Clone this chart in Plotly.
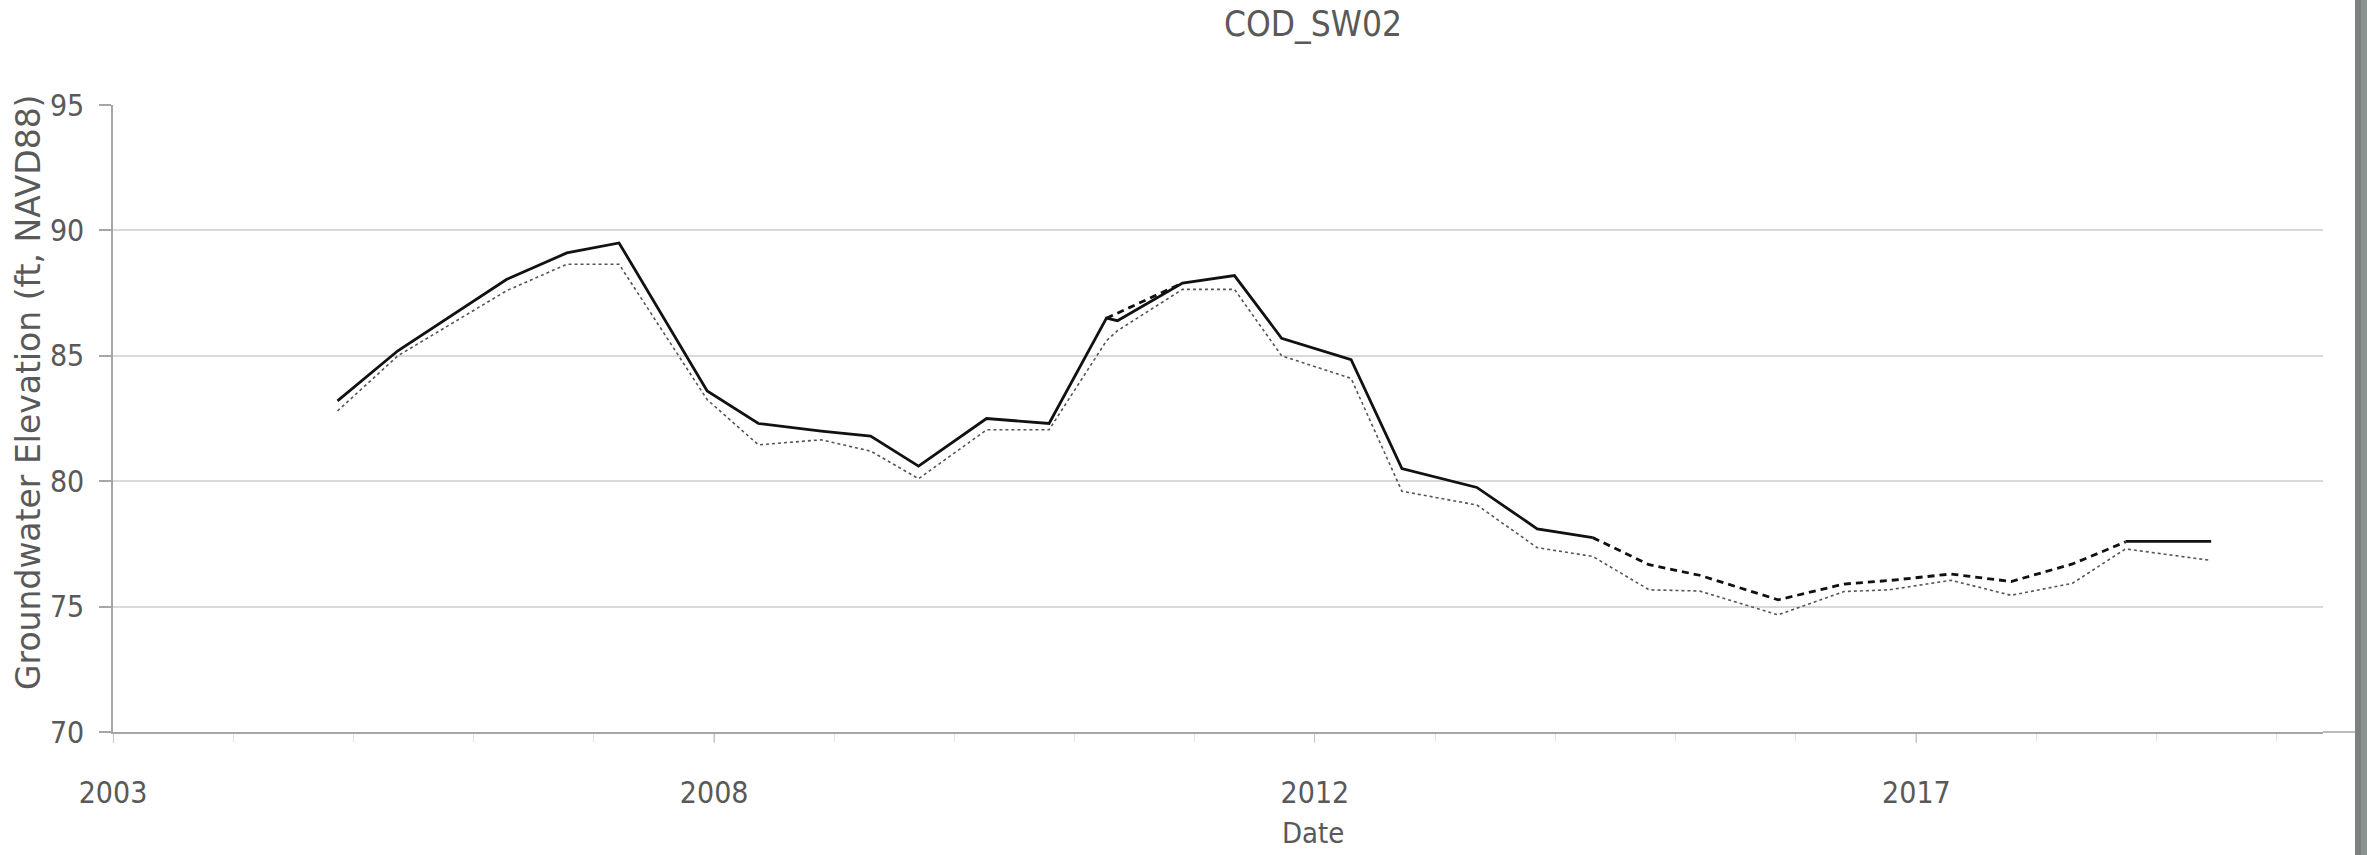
import plotly.graph_objects as go

# ---- data -------------------------------------------------------------
# Sampling dates shared by the measured and lower-bound records
dates = [
    "2005-03-07", "2005-08-19", "2006-06-13", "2006-11-24", "2007-04-16",
    "2007-12-13", "2008-05-01", "2008-10-20", "2009-03-04", "2009-07-13",
    "2010-01-15", "2010-07-05", "2010-12-09", "2011-01-08", "2011-07-05",
    "2011-11-24", "2012-04-01", "2012-10-08", "2013-02-24", "2013-09-17",
    "2014-03-01", "2014-07-31", "2015-01-01", "2015-05-19", "2015-12-20",
    "2016-06-17", "2016-10-19", "2017-04-06", "2017-09-17", "2018-03-04",
    "2018-07-27", "2019-03-18",
]

# Measured groundwater elevation (solid line); None = no measurement
measured = [
    83.2, 85.2, 88.05, 89.1, 89.5,
    83.6, 82.3, 82.0, 81.8, 80.6,
    82.5, 82.3, 86.5, 86.4, 87.9,
    88.2, 85.7, 84.85, 80.5, 79.75,
    78.1, 77.75, None, None, None,
    None, None, None, None, None,
    77.6, 77.6,
]

# Lower record (dotted line)
lower = [
    82.8, 85.0, 87.6, 88.65, 88.65,
    83.25, 81.45, 81.65, 81.2, 80.1,
    82.05, 82.05, 85.6, 86.0, 87.65,
    87.65, 85.0, 84.1, 79.6, 79.05,
    77.35, 77.0, 75.67, 75.62, 74.67,
    75.6, 75.67, 76.05, 75.45, 75.93,
    77.3, 76.84,
]

# Estimated elevations (dashed line); None breaks the line
est_dates = [
    "2010-12-09", "2011-07-05", "2011-11-24",
    "2014-07-31", "2015-01-01", "2015-05-19", "2015-12-20", "2016-06-17",
    "2016-10-19", "2017-04-06", "2017-09-17", "2018-03-04", "2018-07-27",
]
estimated = [
    86.5, 87.9, None,
    77.75, 76.67, 76.25, 75.27, 75.9,
    76.04, 76.3, 76.0, 76.7, 77.58,
]

# Axis labelling
x_tick_dates = ["2003-07-02", "2008-01-01", "2012-07-01", "2017-01-01"]
x_range = ["2003-07-02", "2020-01-18"]
y_ticks = [70, 75, 80, 85, 90, 95]

TITLE = "COD_SW02"
X_TITLE = "Date"
Y_TITLE = "Groundwater Elevation (ft, NAVD88)"

# ---- layout geometry (pixels) -----------------------------------------
W, H = 2367, 855
PLOT_L, PLOT_R, PLOT_T, PLOT_B = 113, 2323, 105, 732
CENTER_X = 1313


def px_x(px):
    return (px - PLOT_L) / (PLOT_R - PLOT_L)


def px_y(py):
    return (PLOT_B - py) / (PLOT_B - PLOT_T)


NARROW = "Liberation Sans Narrow, DejaVu Sans Condensed, Arial Narrow, sans-serif"
TEXT_GREY = "#595959"
AXIS_GREY = "#a6a6a6"
GRID_GREY = "#d9d9d9"

fig = go.Figure()

fig.add_trace(go.Scatter(
    x=dates, y=lower, mode="lines",
    line=dict(color="#555555", width=1.6, dash="dot"),
    showlegend=False, hoverinfo="x+y",
))
fig.add_trace(go.Scatter(
    x=est_dates, y=estimated, mode="lines",
    line=dict(color="#111111", width=2.8, dash="7px,5px"),
    showlegend=False, hoverinfo="x+y",
))
fig.add_trace(go.Scatter(
    x=dates, y=measured, mode="lines",
    line=dict(color="#111111", width=2.8),
    showlegend=False, hoverinfo="x+y",
))

# Minor tick spacing: one fifth of the major spacing (0.9 year)
minor_ms = 0.9 * 365.25 * 86400000

fig.update_xaxes(
    type="date",
    range=x_range,
    tickmode="array",
    tickvals=x_tick_dates,
    tickformat="%Y",
    ticks="outside",
    ticklen=9,
    tickcolor="#c4c4c4",
    tickwidth=1.2,
    ticklabelstandoff=24,
    showline=True,
    linecolor=AXIS_GREY,
    linewidth=1.5,
    showgrid=False,
    zeroline=False,
    tickfont=dict(family=NARROW, size=30, color=TEXT_GREY),
    minor=dict(ticks="outside", ticklen=8, tickcolor="#e2e2e2", tickwidth=1,
               tick0=x_tick_dates[0], dtick=minor_ms, showgrid=False),
)

fig.update_yaxes(
    range=[70, 95],
    tickmode="array",
    tickvals=y_ticks,
    ticks="outside",
    ticklen=12,
    tickcolor=AXIS_GREY,
    tickwidth=1.5,
    ticklabelstandoff=9,
    showline=True,
    linecolor=AXIS_GREY,
    linewidth=1.5,
    showgrid=True,
    gridcolor=GRID_GREY,
    gridwidth=1.5,
    zeroline=False,
    tickfont=dict(family=NARROW, size=30, color=TEXT_GREY),
)

annotations = [
    dict(text=TITLE, x=px_x(CENTER_X), y=px_y(24), xref="paper", yref="paper",
         xanchor="center", yanchor="middle", showarrow=False,
         font=dict(family=NARROW, size=35, color=TEXT_GREY)),
    dict(text=X_TITLE, x=px_x(CENTER_X), y=px_y(833), xref="paper", yref="paper",
         xanchor="center", yanchor="middle", showarrow=False,
         font=dict(family=NARROW, size=29, color=TEXT_GREY)),
    dict(text=Y_TITLE, x=px_x(28), y=px_y(392), xref="paper", yref="paper",
         xanchor="center", yanchor="middle", textangle=-90, showarrow=False,
         font=dict(family="DejaVu Sans, sans-serif", size=33, color=TEXT_GREY)),
]

shapes = [
    # axis baseline continues past the last gridline
    dict(type="line", xref="paper", yref="paper", x0=1, x1=px_x(2355), y0=0, y1=0,
         line=dict(color=AXIS_GREY, width=1.5)),
    # grey frame strip along the right edge
    dict(type="rect", xref="paper", yref="paper", x0=px_x(2355), x1=px_x(2361),
         y0=px_y(H), y1=px_y(0), fillcolor="#7a817f", line=dict(width=0), layer="above"),
    dict(type="rect", xref="paper", yref="paper", x0=px_x(2361), x1=px_x(W + 2),
         y0=px_y(H), y1=px_y(0), fillcolor="#8b9290", line=dict(width=0), layer="above"),
]

fig.update_layout(
    width=W, height=H, autosize=False,
    margin=dict(l=PLOT_L, r=W - PLOT_R, t=PLOT_T, b=H - PLOT_B, pad=0),
    paper_bgcolor="white", plot_bgcolor="white",
    annotations=annotations, shapes=shapes,
    showlegend=False,
)

fig.write_html("out.html")
